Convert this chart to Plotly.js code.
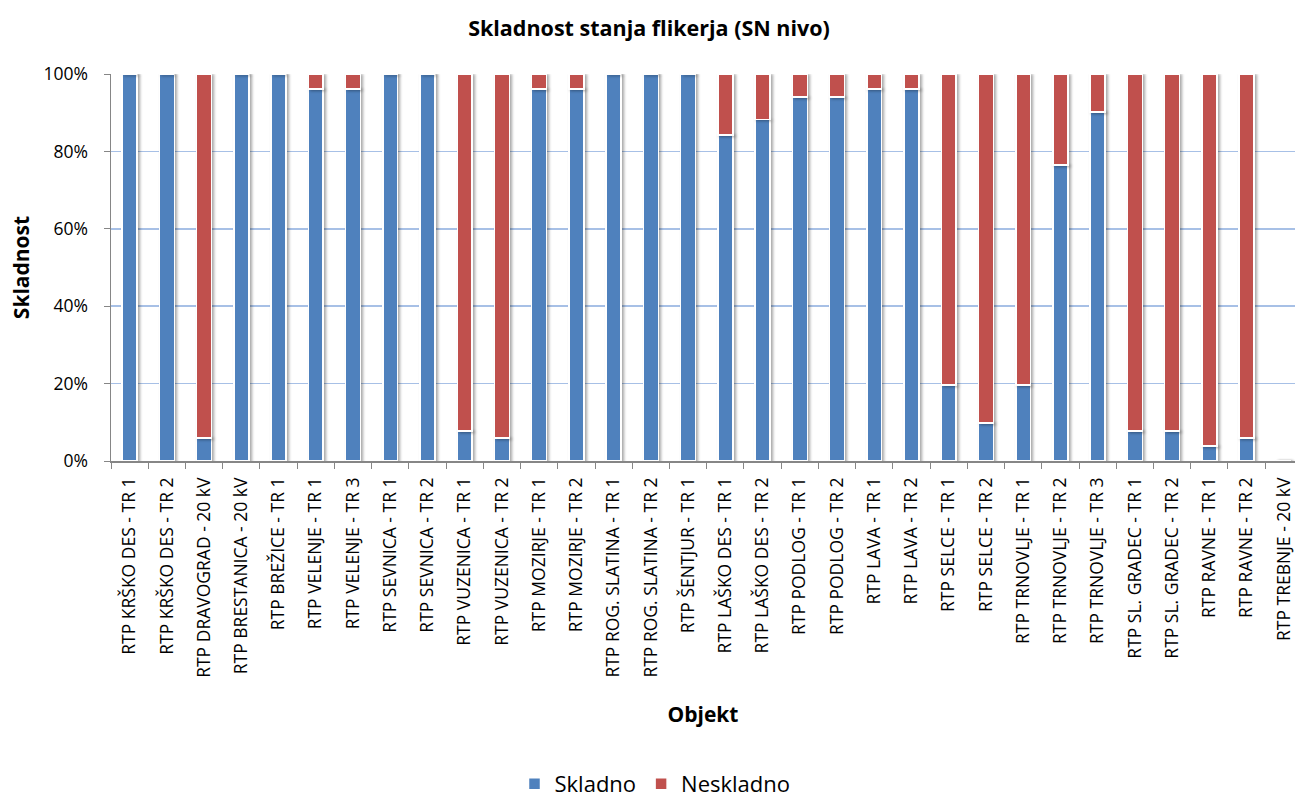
<!DOCTYPE html>
<html>
<head>
<meta charset="utf-8">
<script src="https://cdn.plot.ly/plotly-3.0.1.min.js"></script>
<style>
html,body{margin:0;padding:0;background:#fff;overflow:hidden;}
#chart{width:1295px;height:800px;}
.trace.bars path{filter:drop-shadow(2px 1px 1.5px rgba(0,0,0,0.35));}
</style>
</head>
<body>
<div id="chart"></div>
<script>
const categories = [
  "RTP KRŠKO DES - TR 1","RTP KRŠKO DES - TR 2","RTP DRAVOGRAD - 20 kV","RTP BRESTANICA - 20 kV",
  "RTP BREŽICE - TR 1","RTP VELENJE - TR 1","RTP VELENJE - TR 3","RTP SEVNICA - TR 1",
  "RTP SEVNICA - TR 2","RTP VUZENICA - TR 1","RTP VUZENICA - TR 2","RTP MOZIRJE - TR 1",
  "RTP MOZIRJE - TR 2","RTP ROG. SLATINA - TR 1","RTP ROG. SLATINA - TR 2","RTP ŠENTJUR - TR 1",
  "RTP LAŠKO DES - TR 1","RTP LAŠKO DES - TR 2","RTP PODLOG - TR 1","RTP PODLOG - TR 2",
  "RTP LAVA - TR 1","RTP LAVA - TR 2","RTP SELCE - TR 1","RTP SELCE - TR 2",
  "RTP TRNOVLJE - TR 1","RTP TRNOVLJE - TR 2","RTP TRNOVLJE - TR 3","RTP SL. GRADEC - TR 1",
  "RTP SL. GRADEC - TR 2","RTP RAVNE - TR 1","RTP RAVNE - TR 2","RTP TREBNJE - 20 kV"
];
const skladno = [
  100, 100, 5.9, 100,
  100, 96.1, 96.1, 100,
  100, 7.8, 5.9, 96.1,
  96.1, 100, 100, 100,
  84.3, 88.2, 94.1, 94.1,
  96.1, 96.1, 19.6, 9.8,
  19.6, 76.5, 90.2, 7.8,
  7.8, 3.9, 5.9, 0
];
const neskladno = [
  0, 0, 94.1, 0,
  0, 3.9, 3.9, 0,
  0, 92.2, 94.1, 3.9,
  3.9, 0, 0, 0,
  15.7, 11.8, 5.9, 5.9,
  3.9, 3.9, 80.4, 90.2,
  80.4, 23.5, 9.8, 92.2,
  92.2, 96.1, 94.1, 0
];
const seriesNames = ["Skladno", "Neskladno"];
const yTicks = [0, 20, 40, 60, 80, 100];

const FONT = "'Open Sans', 'DejaVu Sans', sans-serif";
const lineStyle = {color: "#ffffff", width: 1.5};

const traces = [
  {type: "bar", name: seriesNames[0], x: categories, y: skladno,
   marker: {color: "#4F81BD", line: lineStyle}},
  {type: "bar", name: seriesNames[1], x: categories, y: neskladno,
   marker: {color: "#C0504D", line: lineStyle}}
];

const layout = {
  width: 1295, height: 800,
  paper_bgcolor: "#ffffff", plot_bgcolor: "#ffffff",
  barmode: "stack", bargap: 0.6,
  margin: {l: 111, r: 0, t: 74, b: 339, pad: 0},
  font: {family: FONT, color: "#000000", size: 17},
  title: {text: "<b>Skladnost stanja flikerja (SN nivo)</b>", font: {family: FONT, size: 21.5, color: "#000"},
          x: 649/1295, xref: "container", xanchor: "center", y: 1 - 28/800, yref: "container", yanchor: "middle"},
  xaxis: {
    type: "category", range: [-0.5, 31.3], fixedrange: true,
    tickangle: -90, ticks: "outside", tickson: "boundaries", ticklen: 6, tickcolor: "#868686",
    showline: true, linecolor: "#868686", linewidth: 1.5, showgrid: false,
    tickfont: {family: FONT, size: 17.5, color: "#000"}, ticklabelstandoff: 8,
    title: {text: "<b>Objekt</b>", font: {family: FONT, size: 21, color: "#000"}, standoff: 30},
    automargin: false
  },
  yaxis: {
    range: [0, 100], tickvals: yTicks, ticktext: yTicks.map(v => v + "%"),
    ticks: "outside", ticklen: 6, tickcolor: "#868686",
    showline: true, linecolor: "#868686", linewidth: 1.5,
    showgrid: true, gridcolor: "#A7C0E6", gridwidth: 1.5, zeroline: false,
    tickfont: {family: FONT, size: 17.5, color: "#000"}, ticklabelstandoff: 12,
    title: {text: "<b>Skladnost</b>", font: {family: FONT, size: 21, color: "#000"}, standoff: 8},
    automargin: false
  },
  legend: {orientation: "h", traceorder: "normal", xref: "container", x: 655/1295, xanchor: "center",
           yref: "container", y: 1 - 784/800, yanchor: "middle",
           font: {family: FONT, size: 22, color: "#000"}, itemwidth: 30, tracegroupgap: 0},
  showlegend: true
};

Plotly.newPlot("chart", traces, layout, {displayModeBar: false, staticPlot: true});
</script>
</body>
</html>
